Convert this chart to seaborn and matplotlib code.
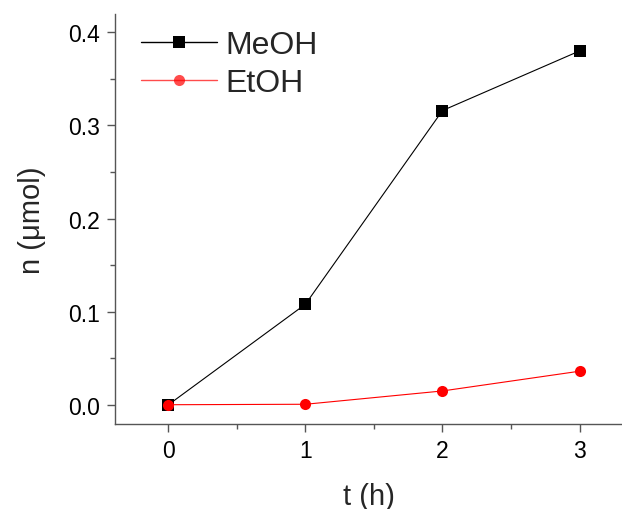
import matplotlib
matplotlib.use("Agg")
import matplotlib.pyplot as plt
import seaborn as sns
import pandas as pd
from matplotlib.ticker import MultipleLocator, FormatStrFormatter

t_h = [0, 1, 2, 3]
meoh = [0.0, 0.108, 0.316, 0.380]
etoh = [0.0, 0.0005, 0.0148, 0.036]
series_names = ["MeOH", "EtOH"]
colors = ["black", "red"]

df = pd.DataFrame({
    "t": t_h * 2,
    "n": meoh + etoh,
    "series": [series_names[0]] * 4 + [series_names[1]] * 4,
})

sns.set_style("ticks")
plt.rcParams["font.family"] = ["Liberation Sans", "DejaVu Sans"]

fig = plt.figure(figsize=(6.22, 5.10), dpi=100)
ax = fig.add_axes([115 / 622, 1 - 425 / 510, (622 - 115) / 622, (425 - 15) / 510])

sns.lineplot(data=df, x="t", y="n", hue="series", style="series",
             palette=colors, markers=["s", "o"], dashes=False,
             markersize=8, linewidth=0.8, markeredgewidth=0, ax=ax)

ax.set_xlim(-0.39, 3.31)
ax.set_ylim(-0.0207, 0.4197)
ax.xaxis.set_major_locator(MultipleLocator(1))
ax.xaxis.set_minor_locator(MultipleLocator(0.5))
ax.yaxis.set_major_locator(MultipleLocator(0.1))
ax.yaxis.set_minor_locator(MultipleLocator(0.05))
ax.yaxis.set_major_formatter(FormatStrFormatter("%.1f"))

for s in ["top", "right"]:
    ax.spines[s].set_visible(False)
for s in ["left", "bottom"]:
    ax.spines[s].set_color("#555555")
    ax.spines[s].set_linewidth(1.0)
ax.tick_params(which="major", direction="out", length=6, width=1.0, color="#555555",
               labelsize=16.5, labelcolor="black", pad=5)
ax.tick_params(which="minor", direction="out", length=3.5, width=1.0, color="#555555")

ax.set_xlabel("t (h)", fontsize=21, labelpad=14)
ax.set_ylabel("n (\u03bcmol)", fontsize=21, labelpad=16)

leg = ax.legend(loc="upper left", bbox_to_anchor=(-0.006, 1.03), frameon=False,
                fontsize=23, handlelength=2.4, handletextpad=0.25, labelspacing=0.25,
                borderaxespad=0.5)
for line in leg.get_lines():
    line.set_linewidth(1.0)
leg.get_lines()[1].set_alpha(0.7)
leg.set_title(None)

fig.savefig("out.png", dpi=100)
